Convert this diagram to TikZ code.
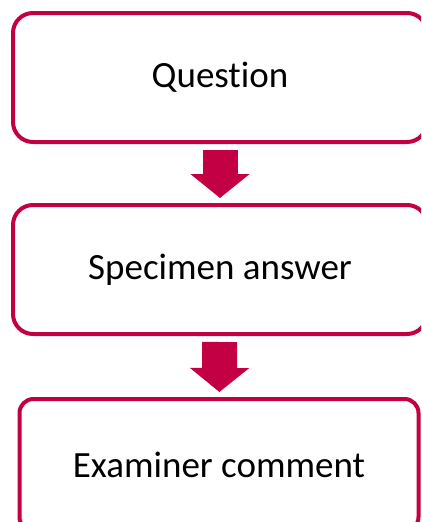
\documentclass[tikz,border=0pt]{standalone}
\usepackage{fontspec}
\setmainfont[Ligatures={NoCommon,NoRare,NoContextual}]{Carlito}
\usepackage{tikz}
\usetikzlibrary{positioning,arrows.meta}
\definecolor{crimson}{RGB}{196,0,68}

\begin{document}
\begin{tikzpicture}[
  x=1pt,y=-1pt,
  box/.style={draw=crimson,line width=4pt,rounded corners=20pt,fill=white,
              minimum width=414pt,minimum height=129pt,inner sep=0pt,
              font=\fontsize{37}{44}\selectfont},
  arr/.style={crimson,line width=35pt,
              -{Triangle[length=24pt,width=58pt]},
              shorten <=6pt,shorten >=5pt}
]
\clip (0,0) rectangle (421,522);

\node[box] (q) at (220,77.5) {Question};

\node[box,below=59pt of q] (s) {Specimen answer};

\node[box,below=61pt of s,xshift=-1pt,minimum width=399pt,
      minimum height=132pt,rounded corners=14pt] (e) {Examiner comment};

\foreach \u/\v in {q/s,s/e}
  {\draw[arr] (\u)--(\v);}

\end{tikzpicture}
\end{document}
